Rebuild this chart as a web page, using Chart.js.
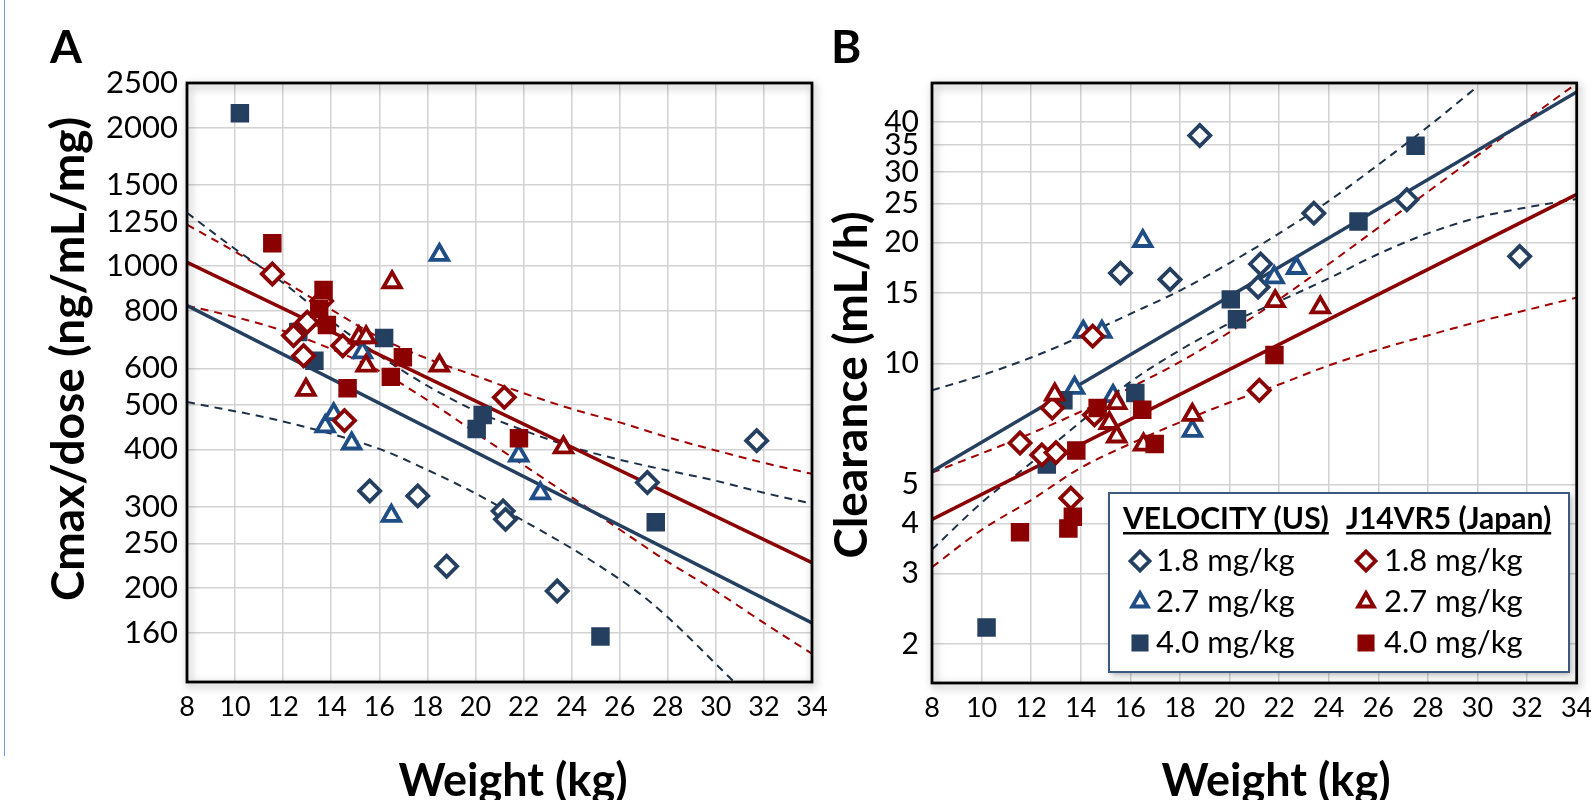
<!DOCTYPE html>
<html>
<head>
<meta charset="utf-8">
<script src="https://cdn.jsdelivr.net/npm/chart.js@4.4.1/dist/chart.umd.min.js"></script>
<style>
  html, body { margin: 0; padding: 0; background: #fff; }
  body { width: 1591px; height: 800px; position: relative; overflow: hidden; font-family: Lato, "Open Sans", sans-serif; }
  canvas { position: absolute; top: 0; }
  #chartA { left: 0; }
  #chartB { left: 830px; }
  #edge { position: absolute; left: 4px; top: 0; width: 1px; height: 756px; background: #6f9bd1; }
  .t { position: absolute; font-weight: bold; font-size: 46px; line-height: 1; white-space: nowrap; color: #000; }
  .c { transform: translate(-50%, -50%); }
  .r { transform: translate(-50%, -50%) rotate(-90deg); }
</style>
</head>
<body>
<div id="edge"></div>
<canvas id="chartA" width="830" height="800"></canvas>
<canvas id="chartB" width="761" height="800"></canvas>
<div class="t" style="left:50px;top:46px;transform:translateY(-50%)">A</div>
<div class="t" style="left:831px;top:46px;transform:translateY(-50%)">B</div>
<div class="t r" style="left:67px;top:359px">Cmax/dose (ng/mL/mg)</div>
<div class="t r" style="left:850px;top:385px">Clearance (mL/h)</div>
<div class="t c" style="left:513px;top:779px;font-size:45px">Weight (kg)</div>
<div class="t c" style="left:1276px;top:779px;font-size:45px">Weight (kg)</div>
<script>
// Оси
const cmaxTicks = [160, 200, 250, 300, 400, 500, 600, 800, 1000, 1250, 1500, 2000, 2500];
const clTicks = [2, 3, 4, 5, 10, 15, 20, 25, 30, 35, 40];

// VELOCITY (US): вес, Cmax/dose, клиренс
const us18W = [15.6, 17.6, 18.8, 21.15, 21.25, 23.4, 27.15, 31.7];
const us18Cmax = [325, 317, 223, 294, 282, 197, 339, 418];
const us18Cl = [16.8, 16.2, 37.0, 15.5, 17.7, 23.7, 25.6, 18.5];

const us27W = [13.75, 14.1, 14.85, 15.3, 16.5, 18.5, 21.8, 22.7];
const us27Cmax = [449, 477, 412, 650, 287, 1058, 388, 321];
const us27Cl = [8.7, 12.0, 12.0, 8.3, 20.2, 6.8, 16.4, 17.3];

const us40W = [10.2, 12.63, 13.3, 16.2, 20.05, 20.3, 25.2, 27.5];
const us40Cmax = [2150, 720, 623, 698, 443, 475, 157, 278];
const us40Cl = [2.2, 5.6, 8.1, 8.45, 14.45, 12.9, 22.6, 34.9];

// J14VR5 (Japan)
const jp18W = [11.55, 12.43, 12.85, 13.0, 13.6, 14.48, 14.55, 21.2];
const jp18Cmax = [962, 707, 639, 756, 840, 672, 462, 519];
const jp18Cl = [6.34, 5.92, 7.75, 6.0, 4.62, 11.7, 7.45, 8.58];

const jp27W = [12.95, 15.15, 15.45, 15.45, 16.53, 18.5, 21.84, 23.66];
const jp27Cmax = [539, 701, 701, 608, 923, 608, null, 404];
const jp27Cl = [8.37, 7.11, 7.97, 6.58, 6.28, 7.45, 14.3, 13.8];

const jp40W = [11.55, 13.5, 13.68, 13.82, 14.68, 16.48, 16.98, 21.81];
const jp40Cmax = [1122, 808, 888, 745, 543, 575, 634, 423];
const jp40Cl = [3.8, 3.88, 4.15, 6.07, 7.75, 7.67, 6.3, 10.5];

// Регрессия и доверительные границы
const fitX = [8, 34];
const cmaxFitUS = [821, 168];
const cmaxFitJP = [1020, 227];
const clFitUS = [5.38, 47.5];
const clFitJP = [4.09, 26.4];

const bandX = [8, 10, 12, 14, 16, 18, 20, 22, 24, 26, 28, 30, 32, 34];
const cmaxUpperUS = [1306, 1090, 920, 760, 640, 550, 485, 440, 405, 380, 360, 342, 322, 305];
const cmaxLowerUSX = [8, 12, 16, 18, 20, 22, 24.5, 27.3, 30.7];
const cmaxLowerUS = [507, 460, 401, 361, 321, 280, 235, 186, 126];
const cmaxUpperJP = [1231, 1075, 930, 805, 700, 630, 578, 530, 490, 458, 425, 398, 374, 354];
const cmaxLowerJP = [821, 776, 724, 661, 592, 512, 435, 370, 315, 268, 228, 197, 168, 144];

const clUpperUSX = [8, 10, 12, 14, 16, 18, 20, 22, 24, 26, 28, 30];
const clUpperUS = [8.58, 9.35, 10.35, 11.67, 13.3, 15.2, 17.8, 21.1, 25.4, 31.3, 38.9, 49];
const clLowerUS = [3.44, 4.5, 5.66, 7.16, 9.0, 10.8, 12.6, 14.3, 16.3, 18.75, 21.1, 23.1, 24.5, 25.7];
const clUpperJP = [5.35, 5.97, 6.7, 7.59, 8.71, 10.1, 11.97, 14.45, 17.7, 21.8, 26.8, 33.0, 40.6, 49.9];
const clLowerJP = [3.11, 3.85, 4.57, 5.5, 6.31, 7.14, 8.0, 8.87, 9.89, 10.84, 11.75, 12.7, 13.6, 14.6];

const NAVY = '#243f60';
const BLUE = '#1f4d86';
const RED = '#8b0000';
const NAVY_DASH = '#1c3048';
const RED_DASH = '#a00000';

const markerStyle = {
  rectRot: { radius: 10.5, border: 3.8 },
  triangle: { radius: 10, border: 3.8 },
  rect: { radius: 12, border: 1.5 }
};

function hasFont(name) {
  const c = document.createElement('canvas').getContext('2d');
  c.font = '40px monospace';
  const a = c.measureText('2500 1250').width;
  c.font = `40px "${name}", monospace`;
  return c.measureText('2500 1250').width !== a;
}
const narrow = hasFont('Liberation Sans Narrow');
const cmaxTickFont = narrow ? { family: '"Liberation Sans Narrow"', size: 37 } : { family: 'Lato', size: 31 };

function pts(xs, ys) {
  return xs.map((x, i) => ({ x, y: ys[i] }));
}

function markers(xs, ys, style, color, order) {
  const s = markerStyle[style];
  const filled = style === 'rect';
  return {
    data: pts(xs, ys),
    pointStyle: style,
    pointRadius: s.radius,
    pointBorderWidth: s.border,
    pointBackgroundColor: filled ? color : '#fff',
    pointBorderColor: color,
    showLine: false,
    order
  };
}

function curve(xs, ys, color, dashed) {
  return {
    data: pts(xs, ys),
    showLine: true,
    pointRadius: 0,
    borderColor: color,
    borderWidth: dashed ? 2 : 3.5,
    borderDash: dashed ? [8, 6] : [],
    cubicInterpolationMode: 'monotone',
    order: 20
  };
}

// Рамка области построения с тенью
const framePlugin = {
  id: 'frame',
  afterDatasetsDraw(chart) {
    const { ctx, chartArea: a } = chart;
    ctx.save();
    ctx.shadowColor = 'rgba(0,0,0,0.35)';
    ctx.shadowBlur = 8;
    ctx.shadowOffsetX = 2;
    ctx.shadowOffsetY = 3;
    ctx.strokeStyle = '#000';
    ctx.lineWidth = 2.8;
    ctx.strokeRect(a.left, a.top, a.width, a.height);
    ctx.restore();
  }
};

function drawMarker(ctx, style, color, x, y) {
  const s = markerStyle[style];
  ctx.fillStyle = style === 'rect' ? color : '#fff';
  ctx.strokeStyle = color;
  ctx.lineWidth = s.border;
  Chart.helpers.drawPoint(ctx, { pointStyle: style, radius: s.radius - 1, borderWidth: s.border, rotation: 0 }, x, y);
}

// Легенда в панели B
const legendPlugin = {
  id: 'boxLegend',
  afterDraw(chart) {
    const ctx = chart.ctx;
    const box = { x: 279, y: 493, w: 460, h: 179 };
    ctx.save();
    ctx.shadowColor = 'rgba(0,0,0,0.3)';
    ctx.shadowBlur = 6;
    ctx.shadowOffsetX = 2;
    ctx.shadowOffsetY = 3;
    ctx.fillStyle = '#fff';
    ctx.fillRect(box.x, box.y, box.w, box.h);
    ctx.restore();
    ctx.save();
    ctx.strokeStyle = '#3b5a7f';
    ctx.lineWidth = 2;
    ctx.strokeRect(box.x, box.y, box.w, box.h);

    const cols = [
      { head: 'VELOCITY (US)', hx: 293, mx: 310, tx: 326, colors: [NAVY, BLUE, NAVY] },
      { head: 'J14VR5 (Japan)', hx: 516, mx: 536, tx: 554, colors: [RED, RED, RED] }
    ];
    const rows = ['1.8 mg/kg', '2.7 mg/kg', '4.0 mg/kg'];
    const styles = ['rectRot', 'triangle', 'rect'];
    const rowY = [571, 612, 653];
    ctx.textBaseline = 'alphabetic';
    cols.forEach(col => {
      ctx.font = 'bold 30px Lato';
      ctx.fillStyle = '#000';
      ctx.fillText(col.head, col.hx, 529);
      const w = ctx.measureText(col.head).width;
      ctx.fillRect(col.hx, 532, w, 2.5);
      rows.forEach((txt, i) => {
        drawMarker(ctx, styles[i], col.colors[i], col.mx, rowY[i] - 10);
        ctx.font = '31px Lato';
        ctx.fillStyle = '#000';
        ctx.fillText(txt, col.tx, rowY[i]);
      });
    });
    ctx.restore();
  }
};

function panelOptions(yMin, yMax, yTicks, yFont, yWidth, yPad, xHeight, padRight) {
  return {
    responsive: false,
    animation: false,
    devicePixelRatio: 1,
    layout: { padding: { top: 83, right: padRight, left: 0, bottom: 0 } },
    plugins: { legend: { display: false }, tooltip: { enabled: false } },
    scales: {
      x: {
        type: 'linear', min: 8, max: 34,
        grid: { color: '#d2d2d2', lineWidth: 1.5, drawTicks: false },
        border: { display: false },
        ticks: { stepSize: 2, autoSkip: false, maxRotation: 0, padding: 9, color: '#000', font: { family: 'Lato', size: 27 } },
        afterFit(scale) { scale.height = xHeight; scale.paddingLeft = 0; scale.paddingRight = 0; }
      },
      y: {
        type: 'logarithmic', min: yMin, max: yMax,
        grid: { color: '#d2d2d2', lineWidth: 1.5, drawTicks: false },
        border: { display: false },
        afterBuildTicks(scale) { scale.ticks = yTicks.map(v => ({ value: v })); },
        ticks: { autoSkip: false, padding: yPad, color: '#000', font: yFont, callback: v => String(v) },
        afterFit(scale) { scale.width = yWidth; scale.paddingTop = 0; scale.paddingBottom = 0; }
      }
    }
  };
}

new Chart(document.getElementById('chartA'), {
  type: 'scatter',
  data: {
    datasets: [
      markers(jp40W, jp40Cmax, 'rect', RED, 1),
      markers(jp27W, jp27Cmax, 'triangle', RED, 2),
      markers(jp18W, jp18Cmax, 'rectRot', RED, 3),
      markers(us40W, us40Cmax, 'rect', NAVY, 4),
      markers(us27W, us27Cmax, 'triangle', BLUE, 5),
      markers(us18W, us18Cmax, 'rectRot', NAVY, 6),
      curve(fitX, cmaxFitUS, NAVY, false),
      curve(fitX, cmaxFitJP, RED, false),
      curve(bandX, cmaxUpperUS, NAVY_DASH, true),
      curve(cmaxLowerUSX, cmaxLowerUS, NAVY_DASH, true),
      curve(bandX, cmaxUpperJP, RED_DASH, true),
      curve(bandX, cmaxLowerJP, RED_DASH, true)
    ]
  },
  options: panelOptions(125, 2500, cmaxTicks, cmaxTickFont, 187, 9, 118, 18),
  plugins: [framePlugin]
});

new Chart(document.getElementById('chartB'), {
  type: 'scatter',
  data: {
    datasets: [
      markers(jp40W, jp40Cl, 'rect', RED, 1),
      markers(jp27W, jp27Cl, 'triangle', RED, 2),
      markers(jp18W, jp18Cl, 'rectRot', RED, 3),
      markers(us40W, us40Cl, 'rect', NAVY, 4),
      markers(us27W, us27Cl, 'triangle', BLUE, 5),
      markers(us18W, us18Cl, 'rectRot', NAVY, 6),
      curve(fitX, clFitUS, NAVY, false),
      curve(fitX, clFitJP, RED, false),
      curve(clUpperUSX, clUpperUS, NAVY_DASH, true),
      curve(bandX, clLowerUS, NAVY_DASH, true),
      curve(bandX, clUpperJP, RED_DASH, true),
      curve(bandX, clLowerJP, RED_DASH, true)
    ]
  },
  options: panelOptions(1.6, 50, clTicks, { family: 'Lato', size: 30 }, 102, 13, 117, 11),
  plugins: [framePlugin, legendPlugin]
});
</script>
</body>
</html>
